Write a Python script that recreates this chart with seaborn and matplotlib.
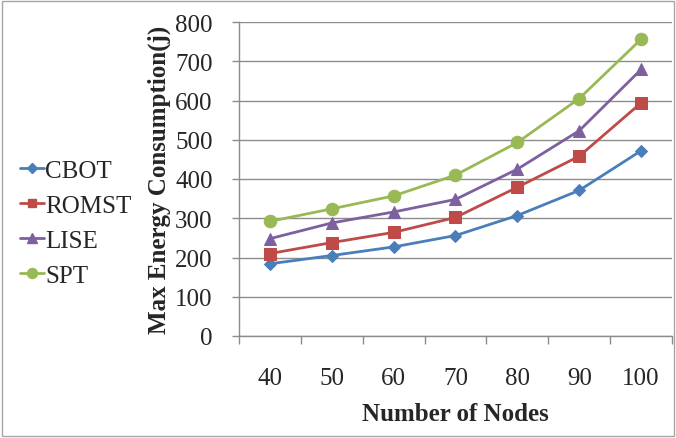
import matplotlib
matplotlib.use("Agg")
import matplotlib.pyplot as plt
from matplotlib.patches import Rectangle
from matplotlib.lines import Line2D
import seaborn as sns
import pandas as pd
import numpy as np

# Network sizes and max energy consumption per protocol
nodes = [40, 50, 60, 70, 80, 90, 100]
cbot = [184, 205, 227, 256, 307, 371, 472]
romst = [210, 238, 264, 302, 379, 458, 594]
lise = [248, 288, 316, 348, 425, 523, 679]
spt = [292, 324, 357, 410, 493, 605, 756]

series = {"CBOT": cbot, "ROMST": romst, "LISE": lise, "SPT": spt}
colors = {"CBOT": "#4a7ebb", "ROMST": "#be4b48", "LISE": "#7d60a0", "SPT": "#98b954"}
markers = {"CBOT": "D", "ROMST": "s", "LISE": "^", "SPT": "o"}
msizes = {"CBOT": 6.5, "ROMST": 8, "LISE": 9, "SPT": 9}

rows = []
for name, vals in series.items():
    for i, (n, v) in enumerate(zip(nodes, vals)):
        rows.append({"pos": i, "nodes": n, "energy": v, "protocol": name})
df = pd.DataFrame(rows)

sns.set_style("white")
plt.rcParams["font.family"] = ["Liberation Serif", "DejaVu Serif"]

fig = plt.figure(figsize=(6.76, 4.39), dpi=100)
ax = fig.add_axes([239 / 676, 1 - 337 / 439, 433 / 676, 314 / 439])

for name in series:
    sub = df[df["protocol"] == name]
    sns.lineplot(data=sub, x="pos", y="energy", ax=ax, color=colors[name],
                 marker=markers[name], markersize=msizes[name],
                 markeredgecolor=colors[name], linewidth=2.0, legend=False)

ax.set_xlim(-0.5, len(nodes) - 0.5)
ax.set_ylim(0, 800)
ax.set_yticks(np.arange(0, 801, 100))
ax.set_xticks(range(len(nodes)))
ax.set_xticklabels([str(n) for n in nodes])
ax.set_xticks(np.arange(-0.5, len(nodes), 1.0), minor=True)

ax.yaxis.grid(True, color="#8c8c8c", linewidth=1.0)
ax.xaxis.grid(False)
ax.set_axisbelow(True)

for side in ["top", "right"]:
    ax.spines[side].set_visible(False)
for side in ["left", "bottom"]:
    ax.spines[side].set_color("#8c8c8c")
    ax.spines[side].set_linewidth(1.0)

ax.tick_params(axis="y", which="major", direction="out", length=5, width=1,
               color="#8c8c8c", labelsize=18, pad=14, left=True)
ax.tick_params(axis="x", which="major", length=0, labelsize=18, pad=22)
ax.tick_params(axis="x", which="minor", direction="out", length=6, width=1,
               color="#8c8c8c", bottom=True)

ax.set_xlabel("Number of Nodes", fontsize=18, fontweight="bold", labelpad=10)
ax.set_ylabel("Max Energy Consumption(j)", fontsize=18, fontweight="bold", labelpad=3)

handles = [Line2D([0], [0], color=colors[n], marker=markers[n], markersize=msizes[n] * 0.8,
                  linewidth=2.0, markeredgecolor=colors[n]) for n in series]
fig.legend(handles, list(series.keys()), loc="center left",
           bbox_to_anchor=(0.015, 0.489), frameon=False, fontsize=18,
           handlelength=0.95, handletextpad=0.05, labelspacing=0.5,
           borderaxespad=0)

fig.patches.append(Rectangle((0.003, 0.004), 0.994, 0.992, transform=fig.transFigure,
                             fill=False, edgecolor="#a6a6a6", linewidth=1.0))

fig.savefig("out.png", dpi=100)
